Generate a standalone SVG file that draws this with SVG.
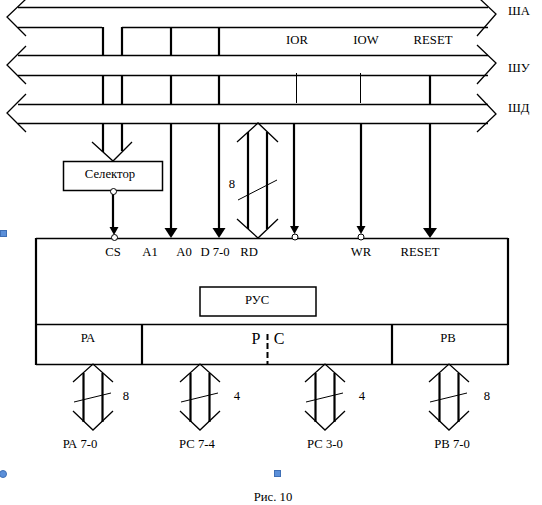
<svg xmlns="http://www.w3.org/2000/svg" width="542" height="505" viewBox="0 0 542 505">
<style>
text{font-family:"Liberation Serif","Times New Roman",serif;font-size:12.700px;fill:#000}
.m{text-anchor:middle}
line,path,rect.b{stroke:#000;fill:none}
.n{stroke-width:1.300}
.t{stroke-width:2}
.k{stroke-width:2.200}
.x{stroke-width:1}
path.h{fill:#000;stroke:none}
.c{fill:#fff;stroke:#000;stroke-width:1}
.s{fill:#5b8fd9;stroke:#3f6fb5;stroke-width:1}
</style>
<defs>
<g id="da"><path class="n" d="M-20 18L0 0L20 18M-20 47L0 66L20 47"/><line class="k" x1="-9.500" y1="9" x2="-9.500" y2="58"/><line class="k" x1="9.500" y1="9" x2="9.500" y2="58"/><line class="x" x1="-19" y1="38" x2="18" y2="29"/></g>
<path id="ah" class="h" d="M-6.500 0H6.500L0 10Z"/>
<path id="as" class="h" d="M-4.500 0H4.500L0 8Z"/>
</defs>
<rect width="542" height="505" fill="#fff"/>
<g id="connectors">
<g id="bus-sha"><line class="n" x1="18" y1="7.500" x2="488" y2="7.500"/><line class="n" x1="18" y1="27.500" x2="102" y2="27.500"/><line class="n" x1="122" y1="27.500" x2="488" y2="27.500"/><path class="n" d="M26 -1L7 17L26 36M480 -1L496 14L477 36"/></g>
<g id="bus-shu"><line class="n" x1="18" y1="55.500" x2="488" y2="55.500"/><line class="n" x1="18" y1="75.500" x2="488" y2="75.500"/><path class="n" d="M26 46L7 65L26 84M477 45L496 63L477 84"/></g>
<g id="bus-shd"><line class="n" x1="18" y1="104.500" x2="488" y2="104.500"/><line class="n" x1="18" y1="123.500" x2="488" y2="123.500"/><path class="n" d="M26 94L7 113L26 132M477 94L496 114L477 132"/></g>
<path class="k" d="M103 27V55M103 75V104M103 123V152M122 27V55M122 75V104M122 123V151M171 27V55M171 75V104M171 123V229M219 27V55M219 75V104M219 123V229"/>
<path class="n" d="M92 142L113 161L132 142"/>
<path class="k" d="M113 191V229M430 75V104M430 123V230M294 123V228M361 123V228"/>
<line class="x" x1="296.500" y1="73" x2="296.500" y2="103"/>
<line class="x" x1="360.500" y1="73" x2="360.500" y2="103"/>
<use href="#as" x="114" y="227"/><use href="#ah" x="171" y="228"/><use href="#ah" x="219" y="228"/>
<use href="#as" x="294.500" y="226"/><use href="#as" x="361" y="226"/><path class="h" d="M423 228H437L430 238Z"/>
<path class="n" d="M237 142L258 123L278 142M237 219L258 238L278 219"/>
<path class="k" d="M248 132V229M267 132V229"/>
<line class="x" x1="238" y1="200" x2="277" y2="180"/>
<use href="#da" x="93" y="364"/><use href="#da" x="200" y="364"/><use href="#da" x="325" y="364"/><use href="#da" x="449" y="364"/>
</g>
<g id="selector"><rect class="b" x="63.500" y="161.500" width="99" height="29" stroke-width="1.500"/><text class="m" x="110" y="178">Селектор</text></g>
<g id="chip">
<path class="n" d="M36 238.500H508M36 364.500H508M36 324.500H508"/>
<path class="k" d="M36 238V365M508 238V365M142 324V364M392 324V364"/>
<line class="t" x1="267.500" y1="334" x2="267.500" y2="364" stroke-dasharray="6 3"/>
<text class="m" x="113" y="256">CS</text><text class="m" x="150" y="256">A1</text><text class="m" x="184" y="256">A0</text><text class="m" x="215" y="256">D 7-0</text><text class="m" x="249" y="256">RD</text><text class="m" x="361" y="256">WR</text><text class="m" x="420" y="256">RESET</text>
<text class="m" x="88" y="342">РА</text><text class="m" x="448" y="342">РВ</text>
<text class="m" x="256" y="344" style="font-size:16px">Р</text><text class="m" x="279" y="344" style="font-size:16px">С</text>
</g>
<g id="rus"><rect class="b" x="200" y="287" width="116" height="29" stroke-width="1.500"/><text class="m" x="257" y="304">РУС</text></g>
<g id="pins">
<circle class="c" cx="113.500" cy="191.500" r="3"/><circle class="c" cx="114.500" cy="237.500" r="3"/><circle class="c" cx="295" cy="237" r="3"/><circle class="c" cx="361" cy="237" r="3"/>
</g>
<g id="labels">
<text x="508" y="15">ША</text>
<text x="508" y="72">ШУ</text>
<text x="508" y="112">ШД</text>
<text class="m" x="297" y="44">IOR</text><text class="m" x="366" y="44">IOW</text><text class="m" x="433" y="44">RESET</text>
<text class="m" x="232" y="188">8</text><text class="m" x="126" y="400">8</text><text class="m" x="237" y="400">4</text><text class="m" x="362" y="400">4</text><text class="m" x="487" y="400">8</text>
<text class="m" x="80" y="448">РА 7-0</text><text class="m" x="197" y="448">РС 7-4</text><text class="m" x="325" y="448">РС 3-0</text><text class="m" x="452" y="448">РВ 7-0</text>
<text class="m" x="273" y="501">Рис. 10</text>
</g>
<g id="handles"><rect class="s" x="0.500" y="230.500" width="6" height="6"/><circle class="s" cx="3" cy="474" r="3.500"/><rect class="s" x="274.500" y="470.500" width="6" height="6"/></g>
</svg>
